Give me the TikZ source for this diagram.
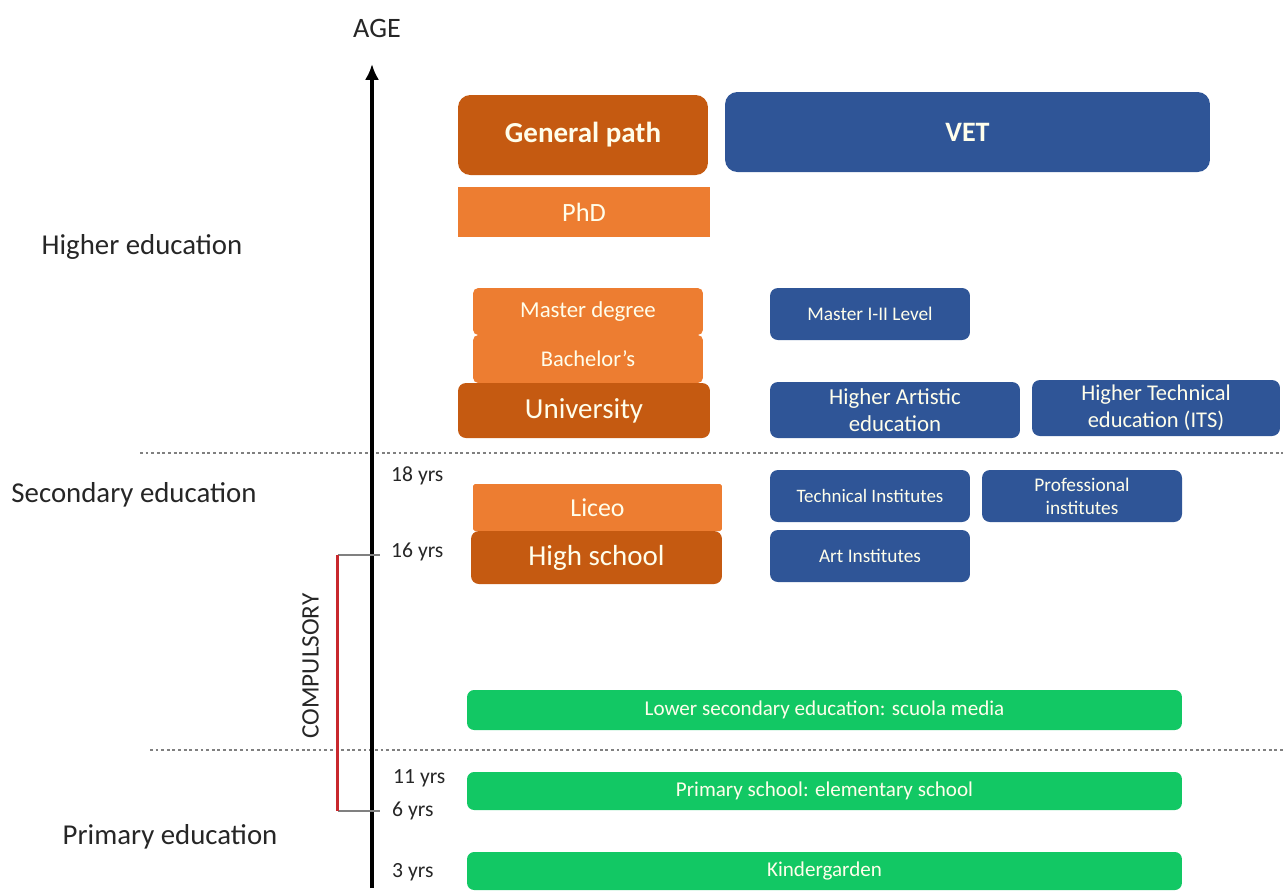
\documentclass[tikz,border=0pt]{standalone}
\usepackage{fontspec}
\setmainfont{Carlito}
\usetikzlibrary{arrows.meta}
\definecolor{darkor}{HTML}{C55A11}
\definecolor{lightor}{HTML}{ED7D31}
\definecolor{vetblue}{HTML}{2F5597}
\definecolor{schoolgreen}{HTML}{12C864}
\definecolor{compred}{HTML}{C8282D}
\newlength{\fsskip}
\newcommand{\fs}[1]{\setlength{\fsskip}{#1pt}\fsskip=1.2\fsskip
  \fontsize{#1}{\the\fsskip}\selectfont}
\begin{document}
\begin{tikzpicture}[x=0.02cm,y=-0.02cm,
    box/.style={inner sep=0pt,text=white!92!yellow,align=center},
    darkbox/.style={box,fill=darkor,rounded corners=4.5pt},
    lightbox/.style={box,fill=lightor,rounded corners=3pt},
    bluebox/.style={box,fill=vetblue,rounded corners=4.5pt},
    greenbox/.style={box,fill=schoolgreen,rounded corners=4pt,
      minimum width=14.3cm,font=\fs{12}},
    level/.style={font=\fs{16.4},text=black!85},
    yrs/.style={anchor=west,font=\fs{12.3},text=black!85},
    sep/.style={gray,line width=0.9pt,dash pattern=on 1.6pt off 1.6pt}]
      \useasboundingbox (0,0) rectangle (1283,890) ;
      % levels
      \node[level] (higher) at (142,247) {Higher education} ;
      \node[level] (secondary) at (134,495) {Secondary education} ;
      \node[level] (primary) at (170,837) {Primary education} ;
      \draw[sep] (140,453) -- (1283,453) ;
      \draw[sep] (150,750) -- (1283,750) ;
      % age axis
      \node[font=\fs{16},text=black!85] (age) at (377,28) {AGE} ;
      \coordinate (ybot) at (372,888) ;
      \coordinate (ytop) at (372,64) ;
      \draw[line width=2.2pt,-{Latex[length=9pt,width=8pt]}] (ybot) -- (ytop) ;
      \node[yrs] (y18) at (385,476) {18 yrs} ;
      \node[yrs] (y16) at (385,552) {16 yrs} ;
      \node[yrs] (y11) at (387,778) {11 yrs} ;
      \node[yrs] (y6) at (386,811) {6 yrs} ;
      \node[yrs] (y3) at (386,872) {3 yrs} ;
      % compulsory
      \coordinate (c16) at (337.5,555) ;
      \coordinate (c6) at (337.5,811) ;
      \coordinate (a16) at (380,555) ;
      \coordinate (a6) at (380,811) ;
      \draw[gray,line width=1.1pt] (c16) -- (a16) (c6) -- (a6) ;
      \draw[compred,line width=2.2pt] (c16) -- (c6) ;
      \node[rotate=90,font=\fs{14.3},text=black!85] (comp) at (310.5,666) {COMPULSORY} ;
      % general path
      \node[darkbox,rounded corners=7pt,minimum width=5cm,minimum height=1.6cm,
        font=\bfseries\fs{16.5}] (genpath) at (583,135) {General path} ;
      \node[box,fill=lightor,minimum width=5.04cm,minimum height=1cm,
        font=\fs{15}] (phd) at (584,212) {PhD} ;
      \node[lightbox,minimum width=4.6cm,minimum height=0.94cm,
        font=\fs{13}] (master) at (588,311.5) {Master degree} ;
      \node[lightbox,minimum width=4.6cm,minimum height=0.96cm,
        font=\fs{12.8}] (bachelor) at (588,359) {Bachelor's} ;
      \node[darkbox,minimum width=5.04cm,minimum height=1.1cm,
        font=\fs{16.5}] (univ) at (584,410.5) {University} ;
      \node[lightbox,rounded corners=1pt,minimum width=4.98cm,minimum height=0.94cm,
        font=\fs{14.7}] (liceo) at (597.5,507.5) {Liceo} ;
      \node[darkbox,minimum width=5.02cm,minimum height=1.06cm,
        font=\fs{16.5}] (highschool) at (596.5,557.5) {High school} ;
      % VET
      \node[bluebox,rounded corners=7pt,minimum width=9.7cm,minimum height=1.6cm,
        font=\bfseries\fs{16}] (vet) at (967.5,132) {VET} ;
      \node[bluebox,minimum width=4cm,minimum height=1.04cm,
        font=\fs{11}] (masterlvl) at (870,314) {Master I-II Level} ;
      \node[bluebox,minimum width=5cm,minimum height=1.12cm,
        font=\fs{13}] (artistic) at (895,410) {Higher Artistic\\education} ;
      \node[bluebox,minimum width=4.96cm,minimum height=1.12cm,
        font=\fs{12.8}] (its) at (1156,408) {Higher Technical\\education (ITS)} ;
      \node[bluebox,minimum width=4cm,minimum height=1.04cm,
        font=\fs{10.8}] (techinst) at (870,496) {Technical Institutes} ;
      \node[bluebox,minimum width=4cm,minimum height=1.04cm,
        font=\fs{11}] (profinst) at (1082,496) {Professional\\institutes} ;
      \node[bluebox,minimum width=4cm,minimum height=1.04cm,
        font=\fs{11}] (artinst) at (870,556) {Art Institutes} ;
      % compulsory schools
      \node[greenbox,minimum height=0.8cm] (lowersec) at (824.5,710)
        {Lower secondary education: scuola media} ;
      \node[greenbox,minimum height=0.76cm] (primsch) at (824.5,791)
        {Primary school: elementary school} ;
      \node[greenbox,minimum height=0.76cm] (kinder) at (824.5,871)
        {Kindergarden} ;
\end{tikzpicture}
\end{document}
